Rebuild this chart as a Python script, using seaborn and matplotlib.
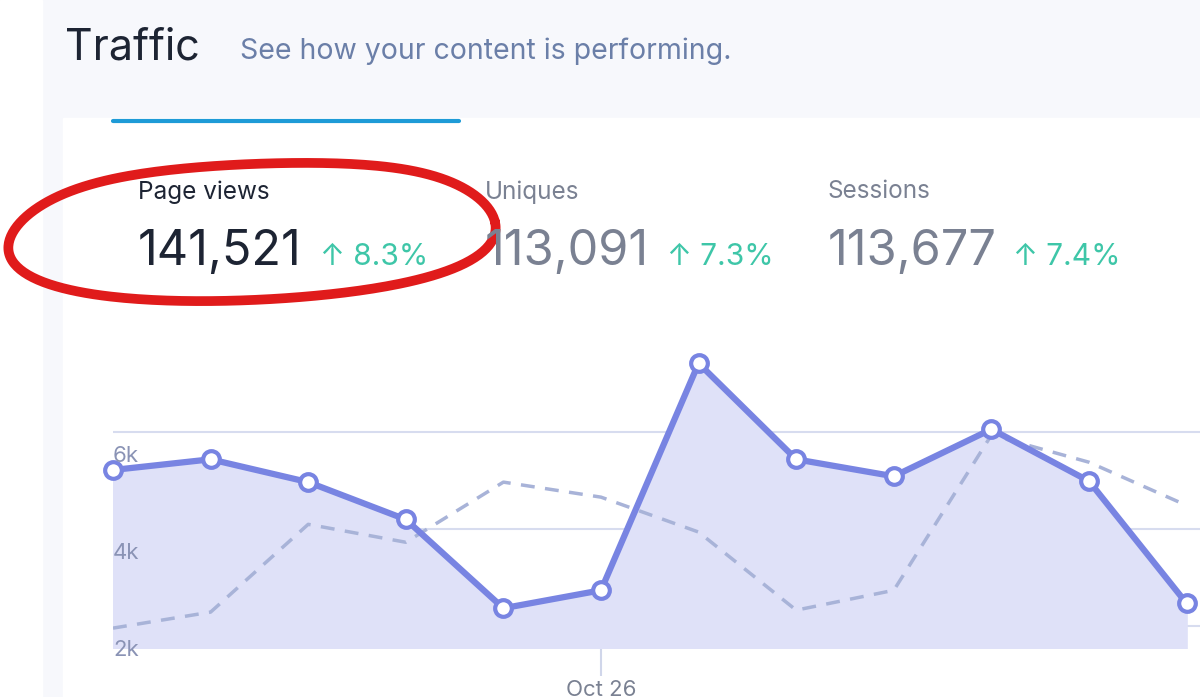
import numpy as np
import matplotlib
matplotlib.use("Agg")
import matplotlib.pyplot as plt
import seaborn as sns
import pandas as pd

sns.set_theme(style="white")
plt.rcParams['font.family'] = ['Inter', 'DejaVu Sans']

days = list(range(12))
page_views = [5.22, 5.44, 4.97, 4.20, 2.37, 2.74, 7.42, 5.44, 5.09, 6.06, 4.99, 2.47]
previous = [1.96, 2.29, 4.10, 3.73, 4.97, 4.66, 3.94, 2.33, 2.74, 5.94, 5.38, 4.49]
ytick_vals = [2, 4, 6]
ytick_labels = ["2k", "4k", "6k"]
xtick_pos = [5]
xtick_labels = ["Oct 26"]
metrics = [("Page views", "141,521", "8.3%"), ("Uniques", "113,091", "7.3%"), ("Sessions", "113,677", "7.4%")]

W, H = 1200, 697
fig = plt.figure(figsize=(12, 6.97), dpi=100)
fig.patch.set_facecolor("#f7f8fc")
fig.add_artist(plt.Rectangle((0, 0), 42 / W, 1, transform=fig.transFigure, color="#ffffff", zorder=0))
fig.add_artist(plt.Rectangle((63 / W, 0), 1, 1 - 118 / H, transform=fig.transFigure, color="#ffffff", zorder=0))
fig.add_artist(plt.Line2D([113 / W, 459 / W], [1 - 121 / H] * 2, transform=fig.transFigure, color="#1e9bd7", lw=3))

fig.text(65 / W, 1 - 48 / H, "Traffic", fontsize=31, color="#1d2433", va="center")
fig.text(240 / W, 1 - 51 / H, "See how your content is performing.", fontsize=20.5, color="#6b7fa8", va="center")
xs = [138, 485, 828]
for i, (lab, val, pct) in enumerate(metrics):
    x = xs[i] / W
    dark = i == 0
    fig.text(x, 1 - 192 / H, lab, fontsize=17.5, color="#1d2433" if dark else "#7a8192", va="center")
    fig.text(x, 1 - 252 / H, val, fontsize=35, color="#1d2433" if dark else "#7a8192", va="center")
    off = [320, 667, 1013][i] / W
    fig.text(off, 1 - 257 / H, "↑ " + pct, fontsize=21.5, color="#3ec6a8", va="center")

ax = fig.add_axes([113 / W, 1 - 648 / H, (W - 113) / W, (648 - 340) / H])
ax.set_facecolor("none")
df = pd.DataFrame({"day": days, "views": page_views, "prev": previous})
ax.fill_between(df["day"], df["views"], 0, color="#dfe1f8", zorder=1)
sns.lineplot(data=df, x="day", y="prev", ax=ax, color="#a8b3d8", lw=2.5, linestyle=(0, (4, 3)), zorder=2)
sns.lineplot(data=df, x="day", y="views", ax=ax, color="#7884e2", lw=4.5, marker="o", markersize=12,
             markerfacecolor="white", markeredgecolor="#7884e2", markeredgewidth=3, zorder=3, clip_on=False)
ax.set_xlim(0, (W - 113) / 97.6)
ax.set_ylim(1.55, 7.9)
for v in ytick_vals:
    ax.axhline(v, color="#d7dcef", lw=1.5, zorder=0.5)
ax.set_yticks([])
ax.set_xticks(xtick_pos)
ax.set_xticklabels(xtick_labels, fontsize=16, color="#7a8192")
ax.tick_params(axis="x", bottom=True, direction="out", length=20, width=1.5, color="#d0d6ea", pad=3)
for v, l in zip(ytick_vals, ytick_labels):
    ax.text(0.0, v - 0.5, l, fontsize=16, color="#8a93b5", ha="left", va="center", zorder=4)
for s in ax.spines.values():
    s.set_visible(False)
ax.set_xlabel(""); ax.set_ylabel("")

t = np.linspace(0, 2 * np.pi, 300)
cx, cy = 252, 232
rx = 243 + 6 * np.sin(3 * t)
ry = 74 + 6 * np.cos(2 * t)
px = cx + rx * np.cos(t)
py = cy + ry * np.sin(t) - 10 * np.cos(t)
fig.add_artist(plt.Line2D(px / W, 1 - py / H, transform=fig.transFigure, color="#e01b1b", lw=7,
                          solid_capstyle="round"))

fig.savefig("out.png", dpi=100, facecolor=fig.get_facecolor())
